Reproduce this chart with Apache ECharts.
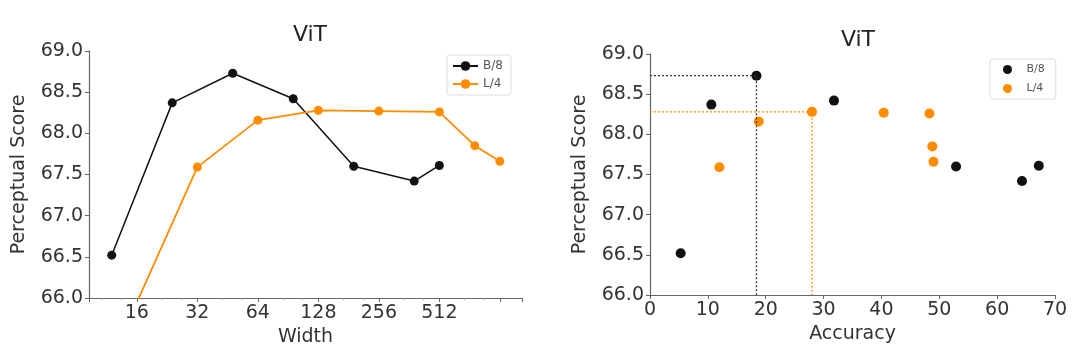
<!DOCTYPE html>
<html>
<head>
<meta charset="utf-8">
<title>ViT</title>
<script src="https://cdn.jsdelivr.net/npm/echarts@6/dist/echarts.min.js"></script>
<style>
  html, body { margin: 0; padding: 0; background: #fff; }
  #chart { width: 1080px; height: 354px; }
</style>
</head>
<body>
<div id="chart"></div>
<script>
const seriesNames = ['B/8', 'L/4']
const widthB = [12, 24, 48, 96, 192, 384, 512]
const scoreB = [66.52, 68.37, 68.73, 68.42, 67.60, 67.42, 67.61]
const accB = [5.3, 10.6, 18.4, 31.8, 52.9, 64.3, 67.2]
const widthL = [8, 32, 64, 128, 256, 512, 768, 1024]
const scoreL = [64.3, 67.59, 68.16, 68.28, 68.27, 68.26, 67.85, 67.66]
// accuracy only known for the L/4 points from width 32 on
const accL = [12.0, 18.8, 28.0, 40.4, 48.3, 48.8, 49.0]
const widthTicks = [16, 32, 64, 128, 256, 512]

const black = '#111111'
const orange = '#ff8c00'
const axisColor = '#666'
const font = 'DejaVu Sans'

const scoreAxis = (gridIndex) => ({
  type: 'value',
  gridIndex: gridIndex,
  min: 66,
  max: 69,
  interval: 0.5,
  name: 'Perceptual Score',
  nameLocation: 'middle',
  nameGap: 60,
  nameTextStyle: { fontFamily: font, fontSize: 19, color: '#333' },
  axisLine: { show: true, lineStyle: { color: axisColor, width: 1.2 } },
  axisTick: { show: true, length: 4, lineStyle: { color: axisColor } },
  axisLabel: {
    fontFamily: font, fontSize: 19, color: '#333', margin: 6,
    formatter: v => v.toFixed(1)
  },
  splitLine: { show: false }
})

const pairsB = widthB.map((w, i) => [w, scoreB[i]])
const pairsL = widthL.map((w, i) => [w, scoreL[i]])
const accPairsB = accB.map((a, i) => [a, scoreB[i]])
const accPairsL = accL.map((a, i) => [a, scoreL[i + 1]])

// dotted guides to the best point of each model
const bestB = scoreB.indexOf(Math.max(...scoreB))
const bestL = scoreL.indexOf(Math.max(...scoreL)) - 1
const guideB = [[0, scoreB[bestB]], [accB[bestB], scoreB[bestB]], [accB[bestB], 66]]
const guideL = [[0, scoreL[bestL + 1]], [accL[bestL], scoreL[bestL + 1]], [accL[bestL], 66]]

const chart = echarts.init(document.getElementById('chart'), null, { renderer: 'canvas' })
chart.setOption({
  backgroundColor: '#fff',
  animation: false,
  title: [
    { text: 'ViT', left: 305, top: 19, textAlign: 'center',
      textStyle: { fontFamily: font, fontSize: 22, fontWeight: 'normal', color: '#222' } },
    { text: 'ViT', left: 853, top: 24, textAlign: 'center',
      textStyle: { fontFamily: font, fontSize: 22, fontWeight: 'normal', color: '#222' } }
  ],
  legend: [
    {
      data: seriesNames,
      orient: 'vertical',
      left: 447,
      top: 55,
      padding: [5, 8, 5, 5],
      itemGap: 6,
      itemWidth: 25,
      itemHeight: 12,
      borderColor: '#ddd',
      borderWidth: 1,
      borderRadius: 3,
      textStyle: { fontFamily: font, fontSize: 12, color: '#555' }
    },
    {
      data: seriesNames.map(n => ({ name: n, icon: 'circle' })),
      orient: 'vertical',
      left: 990,
      top: 59,
      padding: [5, 11, 5, 13],
      itemGap: 8,
      itemWidth: 28,
      itemHeight: 9,
      borderColor: '#ddd',
      borderWidth: 1,
      borderRadius: 3,
      textStyle: { fontFamily: font, fontSize: 11, color: '#555' }
    }
  ],
  grid: [
    { left: 89, right: 558, top: 51, bottom: 56 },
    { left: 650, right: 25, top: 54, bottom: 59 }
  ],
  xAxis: [
    {
      type: 'log',
      logBase: 2,
      gridIndex: 0,
      min: 9.25,
      max: 1320,
      name: 'Width',
      nameLocation: 'middle',
      nameGap: 29,
      nameTextStyle: { fontFamily: font, fontSize: 19, color: '#333' },
      axisLine: { show: true, lineStyle: { color: axisColor, width: 1.2 } },
      axisTick: { show: true, length: 4, lineStyle: { color: axisColor } },
      minorTick: { show: true, splitNumber: 3, length: 2, lineStyle: { color: '#999' } },
      axisLabel: {
        fontFamily: font, fontSize: 19, color: '#333', margin: 6,
        formatter: v => widthTicks.includes(Math.round(v)) ? String(Math.round(v)) : ''
      },
      splitLine: { show: false }
    },
    {
      type: 'value',
      gridIndex: 1,
      min: 0,
      max: 70,
      interval: 10,
      name: 'Accuracy',
      nameLocation: 'middle',
      nameGap: 29,
      nameTextStyle: { fontFamily: font, fontSize: 19, color: '#333' },
      axisLine: { show: true, lineStyle: { color: axisColor, width: 1.2 } },
      axisTick: { show: true, length: 4, lineStyle: { color: axisColor } },
      axisLabel: { fontFamily: font, fontSize: 19, color: '#333', margin: 6 },
      splitLine: { show: false }
    }
  ],
  yAxis: [scoreAxis(0), scoreAxis(1)],
  series: [
    {
      name: seriesNames[0], type: 'line', xAxisIndex: 0, yAxisIndex: 0,
      data: pairsB, symbol: 'circle', symbolSize: 9,
      itemStyle: { color: black }, lineStyle: { color: black, width: 1.5 }
    },
    {
      name: seriesNames[1], type: 'line', xAxisIndex: 0, yAxisIndex: 0,
      data: pairsL, symbol: 'circle', symbolSize: 9,
      itemStyle: { color: orange }, lineStyle: { color: orange, width: 1.8 }
    },
    {
      name: 'guideB', type: 'line', xAxisIndex: 1, yAxisIndex: 1,
      data: guideB, symbol: 'none', silent: true,
      lineStyle: { color: '#333', width: 1.3, type: [2, 2] }
    },
    {
      name: 'guideL', type: 'line', xAxisIndex: 1, yAxisIndex: 1,
      data: guideL, symbol: 'none', silent: true,
      lineStyle: { color: orange, width: 1.3, type: [2, 2] }
    },
    {
      name: seriesNames[0], type: 'scatter', xAxisIndex: 1, yAxisIndex: 1,
      data: accPairsB, symbolSize: 10, itemStyle: { color: black, opacity: 1 }
    },
    {
      name: seriesNames[1], type: 'scatter', xAxisIndex: 1, yAxisIndex: 1,
      data: accPairsL, symbolSize: 10, itemStyle: { color: orange, opacity: 1 }
    }
  ]
})
</script>
</body>
</html>
